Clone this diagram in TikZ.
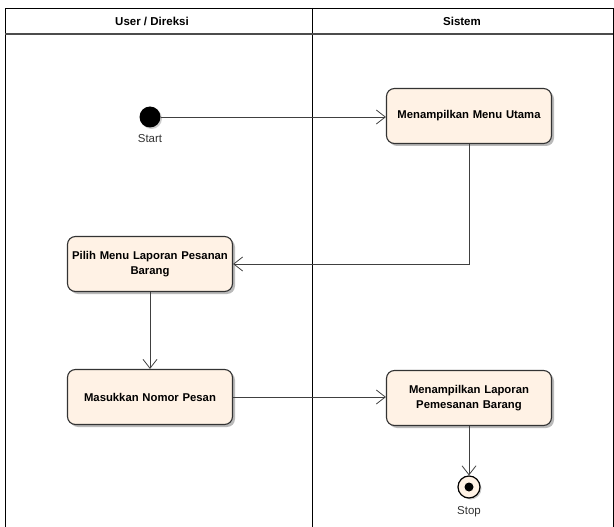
\documentclass[tikz,border=0pt]{standalone}
\usepackage{fontspec}
\setmainfont{Liberation Sans}
\usetikzlibrary{arrows.meta,shadows,positioning}

\begin{document}
\begin{tikzpicture}[x=1pt, y=-1pt, >={Straight Barb[length=9pt,width=14pt]},
    activity/.style={draw=black!80, line width=1.1pt, fill=orange!10!white, rounded corners=8pt,
        minimum width=165pt, minimum height=55pt, text width=161pt, align=center, inner sep=2pt,
        font=\fontsize{11.3}{15}\selectfont\bfseries,
        drop shadow={shadow xshift=2.5pt, shadow yshift=-2.5pt, fill=black!45, opacity=0.6}},
    flow/.style={->, draw=black!75, line width=0.8pt},
    lane/.style={draw=black, line width=0.9pt}]

    \useasboundingbox (0,0) rectangle (614,527);

    % swimlanes
    \draw[lane] (5,527) -- (5,8) -- (613,8) -- (613,527);
    \draw[lane] (312,8) -- (312,527);
    \draw[draw=black!70, line width=1.6pt] (5,34) -- (613,34);
    \node[font=\fontsize{11.5}{13}\selectfont\bfseries] (laneA) at (152,21) {User / Direksi};
    \node[font=\fontsize{11.5}{13}\selectfont\bfseries] (laneB) at (462,21) {Sistem};

    % start and stop
    \node[circle, fill=black, minimum size=21pt, inner sep=0pt,
        drop shadow={shadow xshift=1.5pt, shadow yshift=-1.5pt, fill=black!40, opacity=0.5}] (start) at (150,117) {};
    \node[below=3pt of start, font=\fontsize{11.5}{13}\selectfont, text=black!80] (startlbl) {Start};

    \node[circle, draw=black, line width=1.2pt, fill=orange!10!white, minimum size=22pt, inner sep=0pt,
        drop shadow={shadow xshift=1.5pt, shadow yshift=-1.5pt, fill=black!40, opacity=0.5}] (stop) at (469,487) {};
    \fill (stop.center) circle (4.5pt);
    \node[below=4pt of stop, font=\fontsize{11.5}{13}\selectfont, text=black!80] (stoplbl) {Stop};

    % activities
    \node[activity] (menu) at (469,116) {Menampilkan Menu Utama};
    \node[activity] (pilih) at (150,264) {Pilih Menu Laporan Pesanan\\Barang};
    \node[activity] (nomor) at (150,397) {Masukkan Nomor Pesan};
    \node[activity] (laporan) at (469,398) {Menampilkan Laporan\\Pemesanan Barang};

    % flows
    \draw[flow] (start) -- (menu.west |- start);
    \draw[flow] (menu.south) |- (pilih.east);
    \draw[flow] (pilih) -- (nomor);
    \draw[flow] (nomor.east) -- (laporan.west |- nomor.east);
    \draw[flow] (laporan.south) -- (stop.north);

\end{tikzpicture}
\end{document}
